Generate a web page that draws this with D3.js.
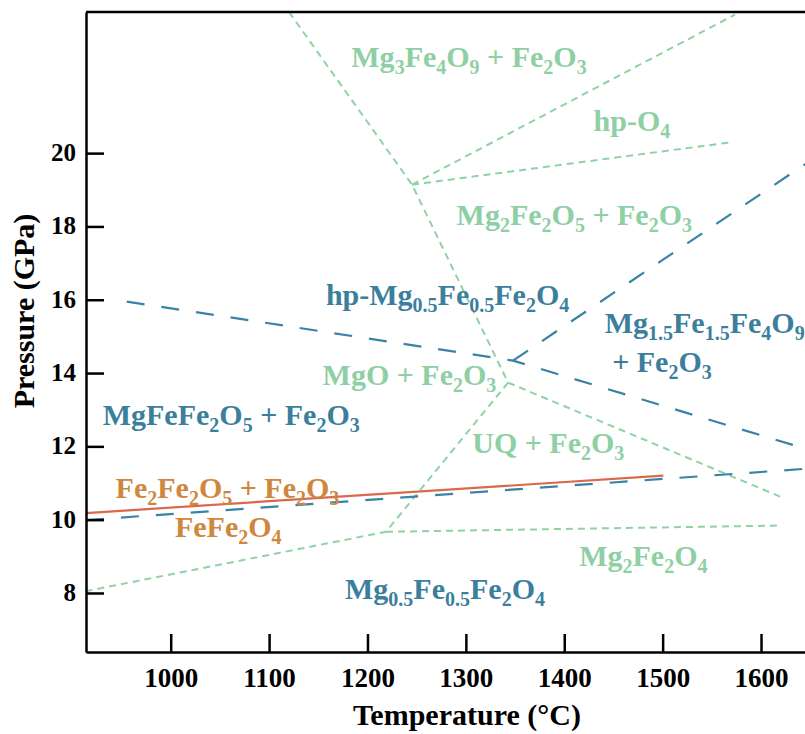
<!DOCTYPE html>
<html>
<head>
<meta charset="utf-8">
<script src="https://cdn.jsdelivr.net/npm/d3@7"></script>
<style>
  html, body { margin: 0; padding: 0; background: #fff; }
  svg { display: block; }
</style>
</head>
<body>
<svg id="chart" width="805" height="734"></svg>
<script>
// ---------------- data ----------------
const tempDomain = [913.9, 1644.7];   // °C, left edge -> right edge of the plot
const presDomain = [6.39, 23.85];     // GPa, bottom -> top of the plot
const xTicks = [1000, 1100, 1200, 1300, 1400, 1500, 1600];
const yTicks = [8, 10, 12, 14, 16, 18, 20];

// phase boundaries as [temperature °C, pressure GPa] polylines
const greenBoundaries = [
  [[1120.2, 23.85], [1245.3, 19.14], [1342.9, 13.74]],
  [[1245.3, 19.14], [1573.6, 23.78]],
  [[1245.3, 19.14], [1567.8, 20.29]],
  [[1342.9, 13.74], [1218.8, 9.67], [913.9, 8.05]],
  [[1218.8, 9.67], [1619.4, 9.84]],
  [[1342.9, 13.74], [1619.4, 10.63]]
];
const blueBoundaries = [
  [[955.3, 15.95], [1347.9, 14.34], [1646, 11.93]],
  [[1347.9, 14.34], [1646, 19.72]],
  [[913.9, 9.99], [1646, 11.39]]
];
const redBoundary = [[913.9, 10.18], [1500.7, 11.2]];

// field labels: formula (_{..} = subscript, \n = new line), temperature, pressure, group
const labelTexts = [
  "Mg_{3}Fe_{4}O_{9} + Fe_{2}O_{3}",
  "hp-O_{4}",
  "Mg_{2}Fe_{2}O_{5} + Fe_{2}O_{3}",
  "hp-Mg_{0.5}Fe_{0.5}Fe_{2}O_{4}",
  "Mg_{1.5}Fe_{1.5}Fe_{4}O_{9}\n + Fe_{2}O_{3}",
  "MgO + Fe_{2}O_{3}",
  "MgFeFe_{2}O_{5} + Fe_{2}O_{3}",
  "UQ + Fe_{2}O_{3}",
  "Fe_{2}Fe_{2}O_{5} + Fe_{2}O_{3}",
  "FeFe_{2}O_{4}",
  "Mg_{2}Fe_{2}O_{4}",
  "Mg_{0.5}Fe_{0.5}Fe_{2}O_{4}"
];
const labelTemps = [1303.2, 1468.8, 1410.2, 1281.4, 1441.1, 1242.7, 1061.5, 1383.8, 1057.7, 1058.5, 1480.4, 1278.8];
const labelPres  = [22.36, 20.59, 18.04, 15.86, 15.09, 13.67, 12.57, 11.82, 10.59, 9.54, 8.73, 7.84];
const labelGroups = ["green", "green", "green", "blue", "blue", "green", "blue", "green", "orange", "orange", "green", "blue"];
const labelAnchors = ["middle", "middle", "middle", "middle", "start", "middle", "middle", "middle", "middle", "middle", "middle", "middle"];

// ---------------- drawing ----------------
const colors = { green: "#8ecfa3", blue: "#3b7f9d", orange: "#cf873d" };
const lineColors = { green: "#8fd3a5", blue: "#3a83a6", red: "#d8694b" };

const svg = d3.select("#chart");
const pLeft = 86, pRight = 806, pTop = 12, pBottom = 652;

const x = d3.scaleLinear().domain(tempDomain).range([pLeft, 805]);
const y = d3.scaleLinear().domain(presDomain).range([pBottom, pTop]);

svg.append("defs").append("clipPath").attr("id", "plotclip")
  .append("rect").attr("x", pLeft).attr("y", pTop)
  .attr("width", pRight - pLeft).attr("height", pBottom - pTop);

const plot = svg.append("g").attr("clip-path", "url(#plotclip)");
const line = d3.line().x(d => x(d[0])).y(d => y(d[1]));

plot.selectAll("path.green").data(greenBoundaries).join("path")
  .attr("class", "green")
  .attr("d", line).attr("fill", "none")
  .attr("stroke", lineColors.green).attr("stroke-width", 2)
  .attr("stroke-dasharray", "7,5");

plot.selectAll("path.blue").data(blueBoundaries).join("path")
  .attr("class", "blue")
  .attr("d", line).attr("fill", "none")
  .attr("stroke", lineColors.blue).attr("stroke-width", 2.2)
  .attr("stroke-dasharray", "18,17");

plot.append("path").datum(redBoundary)
  .attr("d", line).attr("fill", "none")
  .attr("stroke", lineColors.red).attr("stroke-width", 2.2);

// labels
const mainSize = 30, subSize = 20, subShift = 7, lineGap = 32;
function parseFormula(s) {
  const parts = [];
  const re = /_\{([^}]*)\}/g;
  let last = 0, m;
  while ((m = re.exec(s)) !== null) {
    if (m.index > last) parts.push({ t: s.slice(last, m.index), sub: false });
    parts.push({ t: m[1], sub: true });
    last = re.lastIndex;
  }
  if (last < s.length) parts.push({ t: s.slice(last), sub: false });
  return parts;
}

const labelG = svg.append("g").attr("font-family", "'Liberation Serif', 'DejaVu Serif', serif")
  .attr("font-weight", "bold");

labelTexts.forEach((txt, i) => {
  const px = x(labelTemps[i]);
  const t = labelG.append("text")
    .attr("x", px).attr("y", y(labelPres[i]))
    .attr("text-anchor", labelAnchors[i])
    .attr("fill", colors[labelGroups[i]])
    .attr("font-size", mainSize)
    .style("white-space", "pre");
  txt.split("\n").forEach((ln, li) => {
    let shifted = false;
    parseFormula(ln).forEach((p, k) => {
      const ts = t.append("tspan").text(p.t);
      let dy = 0;
      if (li > 0 && k === 0) { ts.attr("x", px); dy += lineGap; }
      if (p.sub) { ts.attr("font-size", subSize); if (!shifted) { dy += subShift; shifted = true; } }
      else if (shifted) { dy -= subShift; shifted = false; }
      if (dy !== 0) ts.attr("dy", dy);
    });
    if (shifted) { t.append("tspan").attr("dy", -subShift).text(""); }
  });
});

// axes
const axisFont = "'Liberation Serif', 'DejaVu Serif', serif";

const xAxis = svg.append("g").attr("transform", `translate(0,${pBottom})`)
  .call(d3.axisBottom(x).tickValues(xTicks).tickFormat(d3.format("d"))
        .tickSizeInner(-18).tickSizeOuter(0));
xAxis.select(".domain").attr("stroke", "#000").attr("stroke-width", 2.5);
xAxis.selectAll(".tick line").attr("stroke", "#000").attr("stroke-width", 2.5);
xAxis.selectAll(".tick text").attr("y", 35).attr("dy", 0)
  .attr("font-family", axisFont).attr("font-weight", "bold").attr("font-size", 27).attr("fill", "#000");

const yAxis = svg.append("g").attr("transform", `translate(${pLeft},0)`)
  .call(d3.axisLeft(y).tickValues(yTicks).tickFormat(d3.format("d"))
        .tickSizeInner(-18).tickSizeOuter(0));
yAxis.select(".domain").attr("stroke", "#000").attr("stroke-width", 2.5);
yAxis.selectAll(".tick line").attr("stroke", "#000").attr("stroke-width", 2.5);
yAxis.selectAll(".tick text").attr("x", -10).attr("dy", "0.3em")
  .attr("font-family", axisFont).attr("font-weight", "bold").attr("font-size", 25).attr("fill", "#000");

// top frame line
svg.append("line").attr("x1", pLeft).attr("x2", 805).attr("y1", pTop).attr("y2", pTop)
  .attr("stroke", "#000").attr("stroke-width", 2.5);

// axis titles
svg.append("text").attr("x", 467).attr("y", 725).attr("text-anchor", "middle")
  .attr("font-family", axisFont).attr("font-weight", "bold").attr("font-size", 30)
  .text("Temperature (°C)");
svg.append("text").attr("transform", "translate(34,311) rotate(-90)").attr("text-anchor", "middle")
  .attr("font-family", axisFont).attr("font-weight", "bold").attr("font-size", 30)
  .text("Pressure (GPa)");
</script>
</body>
</html>
